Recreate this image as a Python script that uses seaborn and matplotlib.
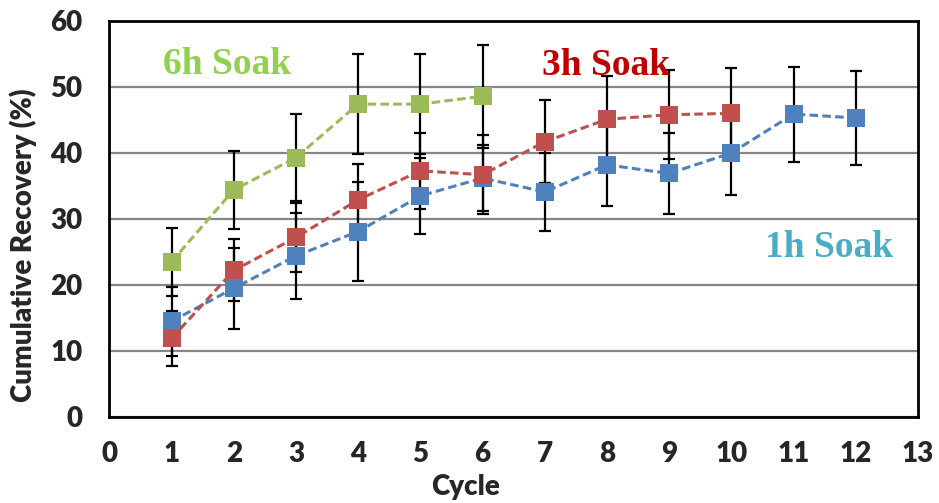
import matplotlib
matplotlib.use("Agg")
import matplotlib.pyplot as plt
import numpy as np
import pandas as pd
import seaborn as sns

# Cumulative recovery per cycle for each soak time, with error half-widths
cycles_1h = [1, 2, 3, 4, 5, 6, 7, 8, 9, 10, 11, 12]
recovery_1h = [14.5, 19.5, 24.4, 28.1, 33.5, 36.2, 34.1, 38.2, 36.9, 40.0, 45.9, 45.3]
error_1h = [5.2, 6.1, 6.5, 7.5, 5.8, 5.0, 5.9, 6.3, 6.1, 6.4, 7.2, 7.1]

cycles_3h = [1, 2, 3, 4, 5, 6, 7, 8, 9, 10]
recovery_3h = [11.9, 22.2, 27.2, 32.9, 37.3, 36.7, 41.7, 45.1, 45.8, 46.0]
error_3h = [4.1, 4.7, 5.2, 5.4, 5.8, 6.0, 6.3, 6.6, 6.7, 6.8]

cycles_6h = [1, 2, 3, 4, 5, 6]
recovery_6h = [23.5, 34.4, 39.3, 47.4, 47.4, 48.6]
error_6h = [5.2, 5.9, 6.6, 7.6, 7.6, 7.8]

series_names = ["1h Soak", "3h Soak", "6h Soak"]
line_colors = ["#4F81BD", "#C0504D", "#9BBB59"]
label_colors = ["#4BACC6", "#C00000", "#92D050"]

x_ticks = list(range(0, 14))
y_ticks = [0, 10, 20, 30, 40, 50, 60]

frames = []
for name, cyc, rec, err in zip(series_names,
                               [cycles_1h, cycles_3h, cycles_6h],
                               [recovery_1h, recovery_3h, recovery_6h],
                               [error_1h, error_3h, error_6h]):
    frames.append(pd.DataFrame({"Cycle": cyc, "Recovery": rec, "Err": err, "Soak": name}))
df = pd.concat(frames, ignore_index=True)

sns.set_style("white")
plt.rcParams["font.family"] = ["Lato", "DejaVu Sans"]

fig = plt.figure(figsize=(9.39, 5.03), dpi=100)
ax = fig.add_axes([0.1164, 0.1710, 0.8612, 0.7873])

# horizontal gridlines
ax.set_axisbelow(True)
ax.yaxis.grid(True, color="#868686", linewidth=1.6)
ax.xaxis.grid(False)

# error bars beneath the markers
for name in series_names:
    sub = df[df["Soak"] == name]
    ax.errorbar(sub["Cycle"], sub["Recovery"], yerr=sub["Err"], fmt="none",
                ecolor="black", elinewidth=1.6, capsize=4, capthick=1.6, zorder=2)

palette = dict(zip(series_names, line_colors))
sns.lineplot(data=df, x="Cycle", y="Recovery", hue="Soak", style="Soak",
             hue_order=series_names, style_order=series_names,
             palette=palette,
             markers={n: "s" for n in series_names},
             dashes={n: (2.8, 1.4) for n in series_names},
             markersize=13, markeredgewidth=0, linewidth=2.2,
             legend=False, ax=ax, zorder=3)

ax.set_xlim(0, 13)
ax.set_ylim(0, 60)
ax.set_xticks(x_ticks)
ax.set_yticks(y_ticks)
ax.set_xticklabels([str(t) for t in x_ticks])
ax.set_yticklabels([str(t) for t in y_ticks])

for side in ["left", "right", "top", "bottom"]:
    ax.spines[side].set_visible(True)
    ax.spines[side].set_color("black")
    ax.spines[side].set_linewidth(2.0)

ax.tick_params(axis="both", which="major", direction="out", length=7.5, width=1.6,
               color="black", labelsize=20, pad=10)
ax.tick_params(axis="y", pad=12)
for lab in ax.get_xticklabels() + ax.get_yticklabels():
    lab.set_fontweight("heavy")

ax.set_xlabel("Cycle", fontsize=20, fontweight="heavy")
ax.set_ylabel("Cumulative Recovery (%)", fontsize=20, fontweight="heavy")
ax.xaxis.label.set_va("center")
ax.yaxis.label.set_va("center")
ax.xaxis.set_label_coords(0.44, -0.177)
ax.yaxis.set_label_coords(-0.107, 0.434)

# series labels inside the plot
label_pos = {"6h Soak": (0.86, 52.0), "3h Soak": (6.95, 51.8), "1h Soak": (10.54, 24.3)}
for name, col in zip(series_names, label_colors):
    x, y = label_pos[name]
    ax.text(x, y, name, color=col, fontsize=27, fontweight="bold",
            family=["Liberation Serif", "DejaVu Serif"], ha="left", va="baseline",
            zorder=4)

fig.savefig("out.png", dpi=100)
